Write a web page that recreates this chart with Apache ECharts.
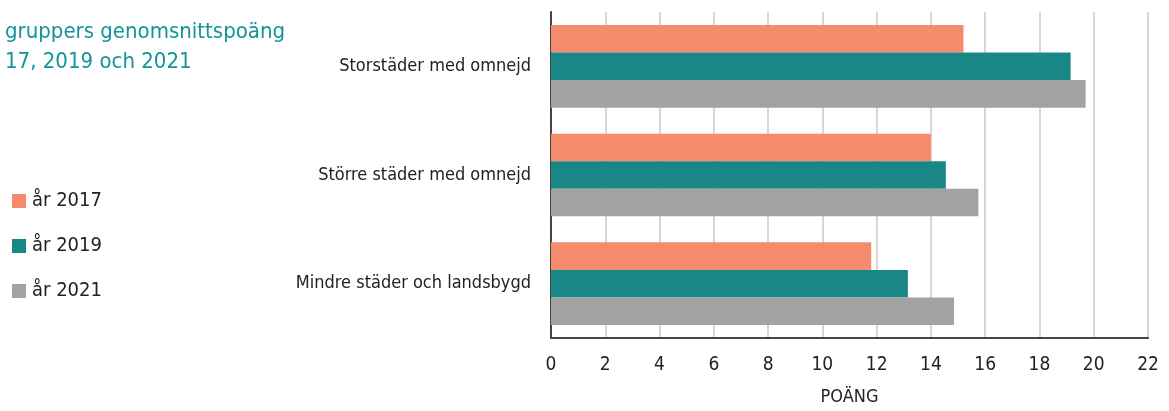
<!doctype html>
<html lang="sv">
<head>
	<meta charset="UTF-8">
	<title>Genomsnittspoäng</title>
	<script src="https://cdn.jsdelivr.net/npm/echarts@6/dist/echarts.min.js"></script>
	<style>
		html, body { margin: 0; padding: 0; background: #fff; }
		#main { width: 1169px; height: 411px; }
	</style>
</head>
<body>
<div id="main"></div>
<script type="text/javascript">
	// data
	var categories = ['Storstäder med omnejd', 'Större städer med omnejd', 'Mindre städer och landsbygd'];
	var seriesNames = ['år 2017', 'år 2019', 'år 2021'];
	var values2017 = [15.2, 14.0, 11.8];
	var values2019 = [19.15, 14.55, 13.15];
	var values2021 = [19.7, 15.75, 14.85];
	var colors = ['#f68a6c', '#1a8787', '#a3a3a3'];

	var font = '"Liberation Sans Narrow", "DejaVu Sans Condensed", "Noto Sans", sans-serif';
	var myChart = echarts.init(document.getElementById('main'));

	var allValues = [values2017, values2019, values2021];
	var series = [];
	for (var i = 0; i < seriesNames.length; i++) {
		series.push({
			name: seriesNames[i],
			type: 'bar',
			data: allValues[i],
			barGap: '0%',
			barCategoryGap: '24%',
			itemStyle: { color: colors[i] }
		});
	}

	var option = {
		animation: false,
		textStyle: { fontFamily: font },
		title: {
			text: 'gruppers genomsnittspoäng\n17, 2019 och 2021',
			left: 0,
			top: 12,
			textStyle: { color: '#13949a', fontSize: 22, fontWeight: 500, lineHeight: 30, fontFamily: font }
		},
		legend: {
			orient: 'vertical',
			left: 7,
			top: 186,
			itemGap: 25,
			itemWidth: 14,
			itemHeight: 14,
			icon: 'rect',
			textStyle: { fontSize: 20, color: '#222', fontFamily: font, padding: [0, 0, 0, 1] },
			data: seriesNames
		},
		grid: { left: 551, right: 21, top: 12, bottom: 69 },
		xAxis: {
			type: 'value',
			min: 0,
			max: 22,
			interval: 2,
			name: 'POÄNG',
			nameLocation: 'middle',
			nameGap: 50,
			nameTextStyle: { fontSize: 18, color: '#222', fontFamily: font },
			axisLine: { show: true, lineStyle: { color: '#444', width: 2 } },
			axisTick: { show: false },
			axisLabel: { fontSize: 19, color: '#222', margin: 18, fontFamily: font },
			splitLine: { show: true, lineStyle: { color: '#d6d6d6', width: 2 } }
		},
		yAxis: {
			type: 'category',
			data: categories,
			inverse: true,
			axisLine: { show: true, lineStyle: { color: '#444', width: 2 } },
			axisTick: { show: false },
			axisLabel: { fontSize: 18, color: '#222', margin: 20, fontFamily: font }
		},
		series: series
	};

	myChart.setOption(option);
</script>
</body>
</html>
